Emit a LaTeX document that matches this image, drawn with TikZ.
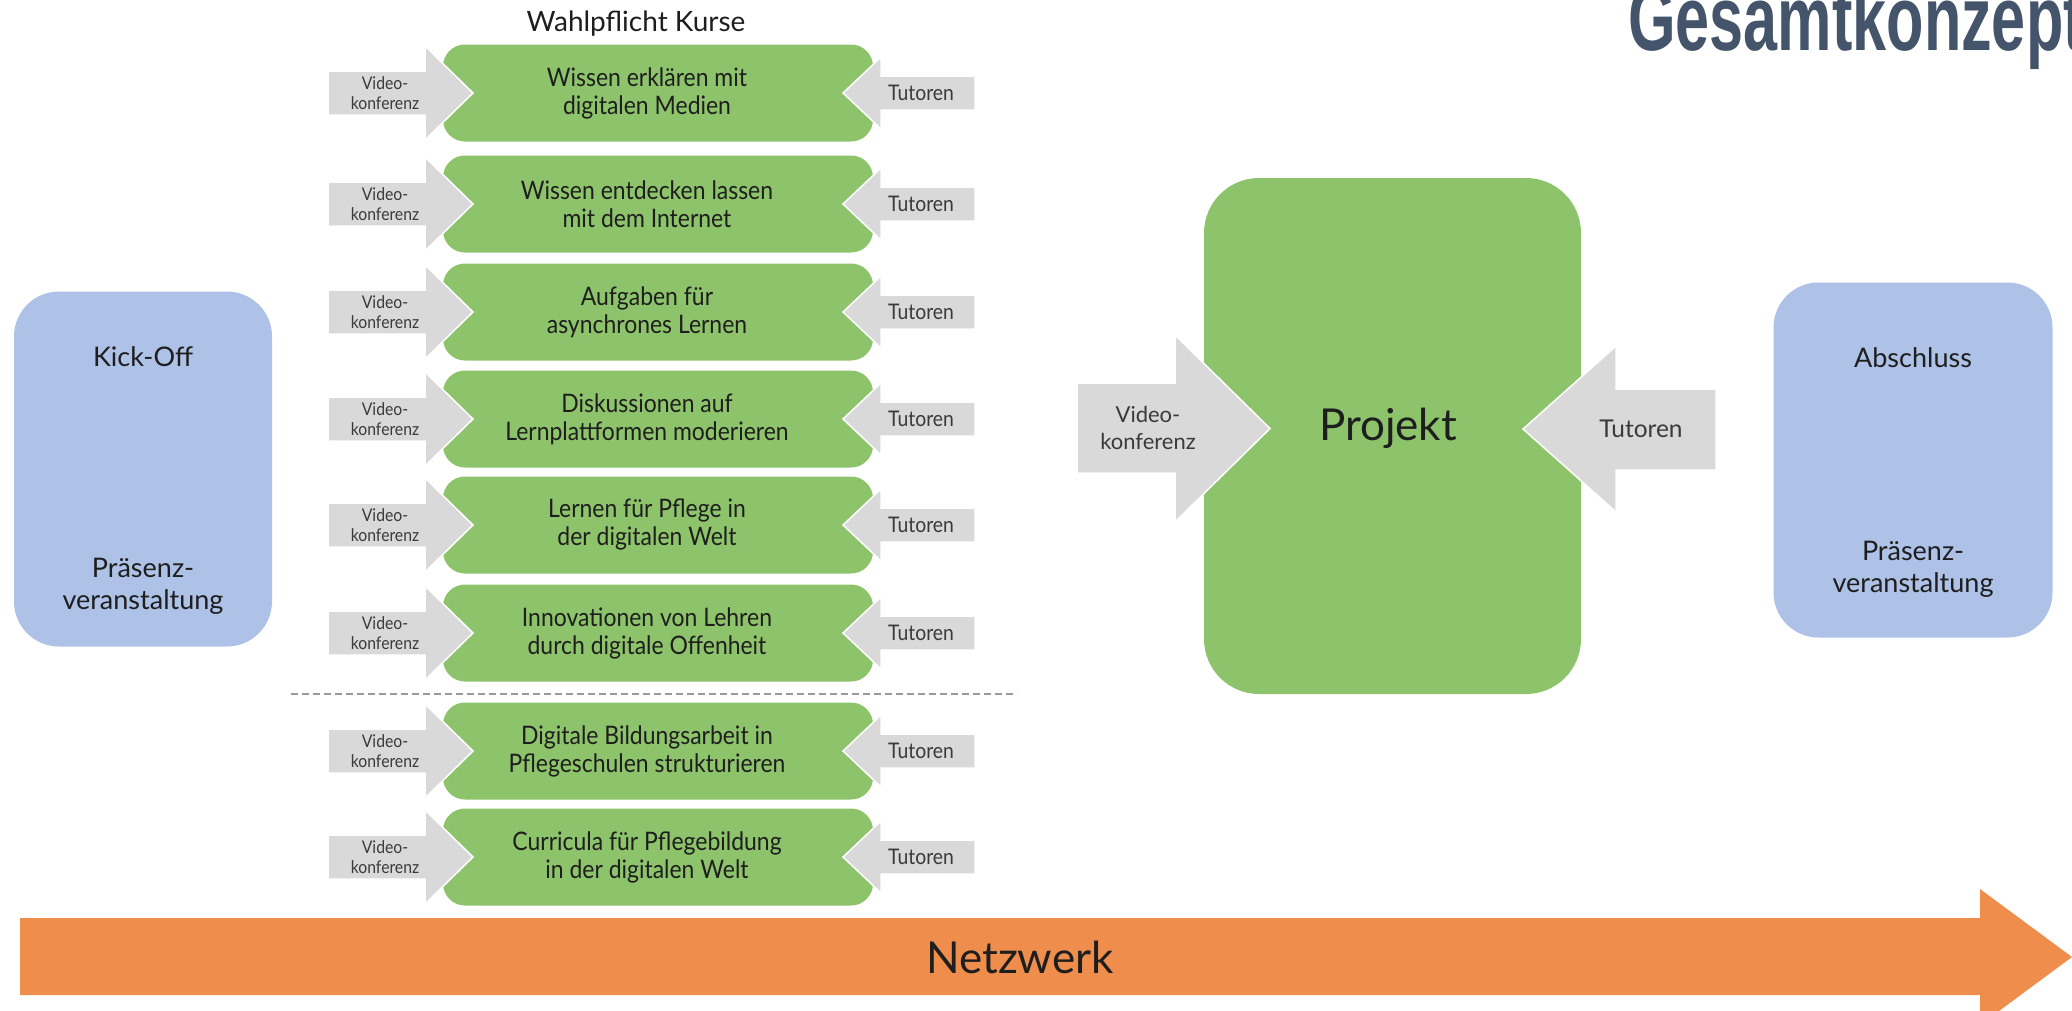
\documentclass[tikz,border=0pt]{standalone}
\usepackage{fontspec}
\setmainfont{Lato}
\newfontfamily\narrowfont[FakeStretch=0.9]{Lato}
\newfontfamily\titlefont[FakeStretch=0.665]{Liberation Sans}
\definecolor{cgreen}{HTML}{8DC36A}
\definecolor{cblue}{HTML}{ADC2E6}
\definecolor{cgrey}{HTML}{D9D9D9}
\definecolor{corange}{HTML}{EF8E4C}
\definecolor{ctitle}{HTML}{44546A}
\definecolor{cdash}{HTML}{9A9A9A}
\definecolor{ctext}{HTML}{1E1E1E}
\definecolor{cgtext}{HTML}{3A3A3A}
\begin{document}
\begin{tikzpicture}[x=1pt,y=-1pt,
  coursebox/.style={fill=cgreen, rounded corners=22pt, minimum width=430pt, minimum height=97pt, inner sep=0pt},
  bigbox/.style={fill=cgreen, rounded corners=55pt, minimum width=377pt, minimum height=516pt, inner sep=0pt},
  bluebox/.style={fill=cblue, rounded corners=45pt, minimum height=355pt, inner sep=0pt},
  greyarrow/.style={fill=cgrey, draw=white, line width=1.5pt, line join=miter},
  coursetext/.style={font=\narrowfont\fontsize{25.5}{28}\selectfont, text=ctext, align=center, inner sep=0pt},
  smalltext/.style={font=\narrowfont\fontsize{17.5}{20}\selectfont, text=cgtext, align=center, inner sep=0pt},
  tuttext/.style={font=\narrowfont\fontsize{21.5}{24}\selectfont, text=cgtext, align=center, inner sep=0pt},
  bluetext/.style={font=\fontsize{27}{32}\selectfont, text=ctext, align=center, inner sep=0pt}
]
\useasboundingbox (0,0) rectangle (2072,1010);

% title
\node[font=\titlefont\bfseries\fontsize{92}{92}\selectfont, text=ctitle, anchor=base west, inner sep=0pt] (gesamt) at (1628,50) {Gesamtkonzept};

\node[font=\fontsize{28}{32}\selectfont, text=ctext, inner sep=0pt] (wahl) at (636,24) {Wahlpflicht Kurse};

% Kick-Off and Abschluss
\node[bluebox, minimum width=258pt] (kick) at (143,469) {};
\node[bluetext] (kicka) at (143,357) {Kick-Off};
\node[bluetext] (kickb) at (143,586) {Präsenz-\\veranstaltung};

\node[bluebox, minimum width=279pt] (absch) at (1913,460) {};
\node[bluetext] (abscha) at (1913,358) {Abschluss};
\node[bluetext] (abschb) at (1913,569) {Präsenz-\\veranstaltung};

% courses
\foreach \i/\yc/\txt in {
  1/93/{Wissen erklären mit\\digitalen Medien},
  2/204/{Wissen entdecken lassen\\mit dem Internet},
  3/312/{Aufgaben für\\asynchrones Lernen},
  4/419/{Diskussionen auf\\Lernplattformen moderieren},
  5/525/{Lernen für Pflege in\\der digitalen Welt},
  6/633/{Innovationen von Lehren\\durch digitale Offenheit},
  7/751/{Digitale Bildungsarbeit in\\Pflegeschulen strukturieren},
  8/857/{Curricula für Pflegebildung\\in der digitalen Welt}}{
  \node[coursebox] (c\i) at (658,\yc) {};
  \node[coursetext] (ct\i) at (647,\yc) {\txt};
  \draw[greyarrow] (328,\yc-22) -- (425,\yc-22) -- (425,\yc-47) -- (473,\yc)
     -- (425,\yc+47) -- (425,\yc+22) -- (328,\yc+22) -- cycle;
  \node[smalltext] (v\i) at (385,\yc) {Video-\\konferenz};
  \draw[greyarrow] (975,\yc-17) -- (881,\yc-17) -- (881,\yc-36) -- (843,\yc)
     -- (881,\yc+36) -- (881,\yc+17) -- (975,\yc+17) -- cycle;
  \node[tuttext] (t\i) at (921,\yc) {Tutoren};
}

% dashed separator
\coordinate (dl) at (291,694);
\coordinate (dr) at (1017,694);
\draw[cdash, line width=1.5pt, dash pattern=on 7pt off 4pt] (dl) -- (dr);

% Projekt
\node[bigbox] (proj) at (1392.5,436) {};
\node[font=\fontsize{44}{50}\selectfont, text=ctext, inner sep=0pt] (projt) at (1388,428) {Projekt};
\draw[greyarrow] (1077,383) -- (1175,383) -- (1175,335) -- (1270,428.5)
   -- (1175,522) -- (1175,473) -- (1077,473) -- cycle;
\node[font=\fontsize{22}{27}\selectfont, text=cgtext, align=center, inner sep=0pt] (pv) at (1148,428) {Video-\\konferenz};
\draw[greyarrow] (1716,389) -- (1616,389) -- (1616,346) -- (1523,429)
   -- (1616,512) -- (1616,470) -- (1716,470) -- cycle;
\node[font=\fontsize{24.5}{28}\selectfont, text=cgtext, inner sep=0pt] (pt) at (1641,429) {Tutoren};

% Netzwerk arrow
\fill[corange] (20,918) -- (1980,918) -- (1980,889) -- (2072,957)
   -- (1980,1025) -- (1980,995) -- (20,995) -- cycle;
\node[font=\fontsize{44}{50}\selectfont, text=ctext, inner sep=0pt] (netz) at (1020,957) {Netzwerk};
\end{tikzpicture}
\end{document}
